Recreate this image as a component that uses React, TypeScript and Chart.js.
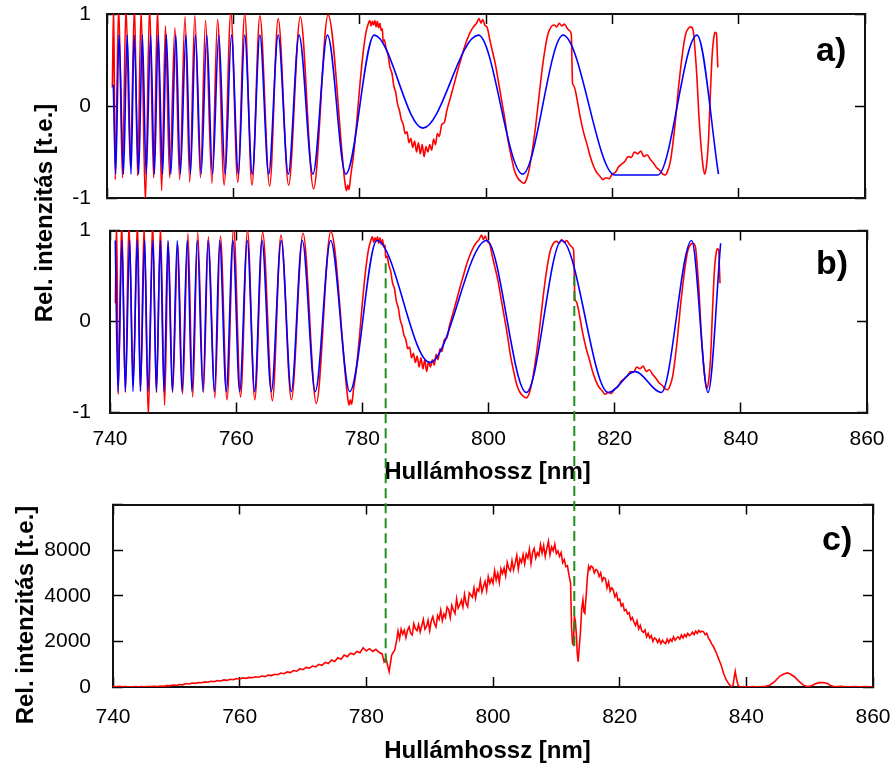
import React, { useEffect, useRef } from "react";
import { Chart, registerables } from "chart.js";

Chart.register(...registerables);

const PAGE_W = 892;
const PAGE_H = 766;
const FONT = '"Liberation Sans", Arial, Helvetica, sans-serif';
const RED = "#ff0000";
const BLUE = "#0000ff";
const GREEN = "#1f8f1f";

// Wavelength axis, nm
const X_MIN = 740;
const X_MAX = 860;
const X_STEP = 20;

// Normalised fringe panels a) and b)
const FRINGE_MIN = -1;
const FRINGE_MAX = 1;
const FRINGE_STEP = 1;

// Spectrum panel c)
const SPEC_MAX = 8000;
const SPEC_STEP = 2000;
const specTickValues = [0, 2000, 4000, 6000];
const specTickLabels = ["0", "2000", "4000", "8000"];

// Measured interference signal (red), shared by panels a) and b): [nm, rel.]
const measuredFringe: [number, number][] = [
  [740.85, 0.2], [741.05, 1.1], [741.3, -0.8], [741.85, 1.1], [742.45, -0.78], [743.0, 1.08],
  [743.7, -0.65], [744.35, 1.1], [744.85, -0.76], [745.4, 1.05], [746.08, -1.05], [746.75, 1.1],
  [747.38, -0.78], [748.0, 1.05], [748.65, -0.92], [749.25, 0.87], [749.92, -0.78], [750.75, 0.85],
  [751.5, -0.8], [752.35, 0.97], [753.1, -0.83], [753.9, 0.98], [754.8, -0.78], [755.6, 0.93],
  [756.62, -0.84], [757.5, 0.94], [758.55, -0.86], [759.6, 1.02], [760.7, -0.83], [761.8, 1.0],
  [762.95, -0.86], [764.2, 0.98], [765.75, -0.87], [767.1, 0.95], [768.75, -0.86], [770.6, 0.97],
  [772.7, -0.9], [775.0, 0.99], [777.7, -0.85], [777.9, -0.92], [778.1, -0.86], [778.3, -0.91],
  [778.6, -0.75], [779.0, -0.55], [779.5, -0.2], [780.0, 0.2], [780.5, 0.55], [781.0, 0.8],
  [781.3, 0.88], [781.6, 0.93], [781.8, 0.87], [782.0, 0.92], [782.2, 0.88], [782.4, 0.93],
  [782.6, 0.86], [782.8, 0.92], [783.0, 0.85], [783.2, 0.9], [783.4, 0.82], [783.6, 0.84],
  [783.7, 0.7], [783.9, 0.72], [784.2, 0.62], [784.5, 0.55], [784.8, 0.42], [785.1, 0.36],
  [785.4, 0.22], [785.7, 0.15], [786.0, 0.02], [786.3, -0.05], [786.6, -0.15], [786.9, -0.2],
  [787.2, -0.3], [787.5, -0.28], [787.8, -0.4], [788.1, -0.35], [788.4, -0.45], [788.7, -0.38],
  [789.0, -0.5], [789.3, -0.4], [789.6, -0.52], [789.9, -0.42], [790.2, -0.55], [790.5, -0.44],
  [790.8, -0.5], [791.1, -0.42], [791.4, -0.48], [791.7, -0.36], [792.0, -0.42], [792.3, -0.3],
  [792.6, -0.33], [793.0, -0.2], [793.4, -0.18], [793.8, -0.05], [794.2, 0.05], [794.6, 0.15],
  [795.0, 0.25], [795.5, 0.38], [796.0, 0.5], [796.5, 0.62], [797.0, 0.72], [797.5, 0.8],
  [798.0, 0.86], [798.5, 0.9], [798.9, 0.95], [799.2, 0.9], [799.5, 0.94], [799.8, 0.88],
  [800.2, 0.85], [800.6, 0.72], [801.0, 0.6], [801.5, 0.45], [802.0, 0.25], [802.5, 0.05],
  [803.0, -0.15], [803.5, -0.38], [804.0, -0.55], [804.5, -0.7], [805.0, -0.78], [805.5, -0.82],
  [806.0, -0.84], [806.4, -0.8], [806.8, -0.7], [807.3, -0.5], [807.8, -0.25], [808.3, 0.05],
  [808.8, 0.35], [809.3, 0.6], [809.8, 0.78], [810.3, 0.86], [810.8, 0.88], [811.2, 0.86],
  [811.6, 0.9], [812.0, 0.87], [812.4, 0.89], [812.8, 0.85], [813.2, 0.82], [813.5, 0.78],
  [813.7, 0.25], [813.9, 0.22], [814.2, 0.15], [814.6, 0.0], [815.0, -0.15], [815.5, -0.3],
  [816.0, -0.42], [816.5, -0.55], [817.0, -0.65], [817.5, -0.72], [818.0, -0.76], [818.5, -0.8],
  [819.0, -0.78], [819.5, -0.79], [820.0, -0.74], [820.5, -0.72], [821.0, -0.66], [821.5, -0.63],
  [822.0, -0.6], [822.5, -0.55], [823.0, -0.56], [823.5, -0.5], [824.0, -0.52], [824.5, -0.49],
  [825.0, -0.55], [825.5, -0.53], [826.0, -0.58], [826.5, -0.62], [827.0, -0.67], [827.5, -0.7],
  [828.0, -0.74], [828.4, -0.75], [828.8, -0.7], [829.2, -0.6], [829.6, -0.4], [830.0, -0.15],
  [830.4, 0.15], [830.8, 0.4], [831.2, 0.62], [831.6, 0.78], [832.0, 0.84], [832.4, 0.86],
  [832.8, 0.82], [833.1, 0.6], [833.4, 0.3], [833.7, -0.1], [834.0, -0.4], [834.3, -0.62],
  [834.6, -0.74], [834.9, -0.65], [835.2, -0.4], [835.5, 0.1], [835.8, 0.55], [836.1, 0.76],
  [836.3, 0.8], [836.5, 0.78], [836.6, 0.6], [836.7, 0.42],
];

// First model (blue, panel a): extrema of the fitted curve, [nm, rel.]
const modelA: [number, number][] = [
  [741.0, 0.23], [741.37, -0.74], [741.9, 0.77], [742.6, -0.74], [743.2, 0.77], [743.8, -0.74],
  [744.3, 0.77], [745.0, -0.74], [745.6, 0.77], [746.2, -0.74], [746.9, 0.77], [747.5, -0.74],
  [748.1, 0.77], [748.8, -0.74], [749.4, 0.77], [750.1, -0.74], [750.9, 0.77], [751.6, -0.74],
  [752.5, 0.77], [753.2, -0.74], [754.0, 0.77], [754.9, -0.74], [755.8, 0.77], [756.7, -0.74],
  [757.7, 0.77], [758.7, -0.74], [759.7, 0.77], [760.8, -0.74], [761.8, 0.77], [763.0, -0.74],
  [764.2, 0.77], [765.6, -0.74], [767.1, 0.77], [768.7, -0.74], [770.4, 0.77], [772.6, -0.74],
  [774.9, 0.77], [777.8, -0.74], [782.3, 0.77], [790.0, -0.24], [798.8, 0.77], [805.8, -0.74],
  [812.2, 0.77], [820.4, -0.75], [827.2, -0.75], [833.4, 0.77], [836.8, -0.74],
];

// Refined model (blue, panel b): extrema of the fitted curve, [nm, rel.]
const modelB: [number, number][] = [
  [740.84, 0.89], [741.27, -0.77], [741.9, 0.89], [742.43, -0.77], [743.12, 0.89], [743.64, -0.77],
  [744.33, 0.89], [744.81, -0.77], [745.49, 0.89], [746.02, -0.77], [746.81, 0.89], [747.34, -0.77],
  [747.98, 0.89], [748.56, -0.77], [749.19, 0.89], [749.88, -0.77], [750.67, 0.89], [751.41, -0.77],
  [752.26, 0.89], [752.99, -0.77], [753.84, 0.89], [754.74, -0.77], [755.53, 0.89], [756.58, -0.77],
  [757.38, 0.89], [758.43, -0.77], [759.49, 0.89], [760.55, -0.77], [761.76, 0.89], [762.93, -0.77],
  [764.09, 0.89], [765.57, -0.77], [767.15, 0.89], [768.74, -0.77], [770.48, 0.89], [772.54, -0.77],
  [774.97, 0.89], [778.0, -0.77], [782.3, 0.89], [790.7, -0.45], [799.7, 0.89], [806.0, -0.78],
  [811.6, 0.89], [819.0, -0.78], [823.2, -0.55], [827.4, -0.78], [832.2, 0.89], [834.8, -0.78],
  [836.8, 0.86],
];

// Spectrum (panel c), sampled on regular grids plus hand-read features
const specLowStart = 740;
const specLowStep = 0.5;
const specLow = [
  30, 10, 25, 5, 15, 0, 10, 20, 5, 15, 10, 25, 15, 30, 20, 45, 35, 60, 50, 85,
  70, 110, 95, 150, 130, 175, 160, 200, 185, 225, 210, 250, 235, 280, 265, 310, 290, 340, 320, 370,
  350, 400, 380, 420, 405, 450, 430, 480, 455, 520, 500, 560, 540, 610, 580, 660, 630, 720, 690, 800,
  760, 860, 830, 920, 880, 990, 950, 1080, 1030, 1180, 1120, 1280, 1220, 1400, 1330, 1480, 1420, 1560, 1500, 1720,
  1580, 1680, 1560, 1650, 1520, 1450,
];
const specDip1: [number, number][] = [
  [782.8, 1110], [783.1, 1270], [783.35, 950], [783.6, 670], [784.0, 1400], [784.5, 1630], [784.8, 2070],
];
const specRiseStart = 785;
const specFineStep = 0.25;
const specRise = [
  2450, 2122, 2545, 2317, 2490, 2162, 2485, 2637, 2360, 2282,
  2775, 2547, 2470, 2742, 2415, 2687, 2960, 2532, 2655, 2927,
  2470, 2895, 3090, 2785, 2630, 3125, 2970, 3365, 2910, 3205,
  3050, 3495, 3390, 3035, 3580, 3375, 3220, 3865, 3460, 3605,
  3800, 3505, 4060, 3665, 3520, 4125, 4030, 3935, 4340, 3895,
  4300, 4205, 4660, 4165, 4420, 4625, 4230, 4835, 4540, 4745,
  4550, 5095, 4690, 4985, 4580, 5175, 4970, 5215, 4860, 5455,
  5200, 5095, 5540, 5135, 5430, 5775, 5170, 5615, 5460, 5805,
  5400, 5829, 5658, 6037, 5416, 5895, 6074, 5653, 5882, 5761,
  6240, 5869, 6200, 5712, 6075, 6387, 5800, 6137, 5975, 6262,
  5850, 5962, 5725, 5887, 5450, 5587, 5275, 5312, 4900, 4550,
];
const specDip2: [number, number][] = [
  [812.4, 2650], [812.55, 1900], [812.7, 1850], [812.85, 3100], [813.0, 2900], [813.15, 2360],
  [813.3, 1500], [813.45, 1110], [813.6, 1700], [813.8, 2360], [814.0, 3400], [814.2, 3820],
  [814.35, 3300], [814.5, 3240], [814.7, 3970], [814.9, 4800], [815.1, 5290], [815.3, 5150],
  [815.5, 5300],
];
const specFallStart = 815.75;
const specFall = [
  5250, 5000, 5150, 5100, 4850, 5000, 4650, 4800, 4750, 4350,
  4600, 4200, 4350, 4250, 3950, 4100, 3800, 3850, 3550, 3650,
  3350, 3400, 3200, 3250, 2950, 3050, 2850, 2700, 2900, 2550,
  2700, 2450, 2400, 2500, 2200, 2350, 2150, 2250, 2000, 2150,
  2100, 1950, 2100, 1900, 2050, 1950, 1900, 2100, 1950, 2100,
  2000, 2200, 2050, 2150, 2200, 2100, 2280, 2150, 2300, 2200,
  2350, 2250, 2300, 2400, 2300, 2450, 2350, 2480, 2400, 2450,
  2420, 2300, 2350, 2150, 2050, 1900, 1800, 1650, 1500, 1320,
  1150, 980,
];
const specTail: [number, number][] = [
  [836.4, 600], [836.8, 330], [837.2, 150], [837.6, 0], [837.9, 80], [838.1, 450], [838.25, 680],
  [838.45, 350], [838.7, 80], [839.0, 0], [839.5, 20], [840.0, 0], [841.0, 20], [842.0, 0],
  [843.0, 30], [843.7, 80], [844.5, 250], [845.3, 480], [846.0, 580], [846.5, 620], [847.0, 560],
  [847.6, 450], [848.2, 280], [849.0, 80], [849.6, 20], [850.2, 40], [850.8, 130], [851.5, 190],
  [852.2, 200], [852.8, 150], [853.4, 50], [854.0, 10], [855.0, 30], [856.0, 0], [857.0, 25],
  [858.0, 5], [859.0, 20], [860.0, 0],
];

// Wavelengths linking features of panel b) to the spectrum in panel c)
const markerWavelengths = [783.7, 813.6];
const markerUpperValues = [0.64, 0.5];
const markerLowerValues = [1050, 1630];

type Pt = { x: number; y: number };
const pairs = (list: [number, number][]): Pt[] => list.map(([x, y]) => ({ x, y }));
const grid = (start: number, step: number, values: number[]): Pt[] =>
  values.map((y, i) => ({ x: +(start + i * step).toFixed(3), y }));

const spectrumPoints: Pt[] = [
  ...grid(specLowStart, specLowStep, specLow),
  ...pairs(specDip1),
  ...grid(specRiseStart, specFineStep, specRise),
  ...pairs(specDip2),
  ...grid(specFallStart, specFineStep, specFall),
  ...pairs(specTail),
];

type Box = { left: number; right: number; top: number; bottom: number };
const boxA: Box = { left: 107, right: 865, top: 14, bottom: 198 };
const boxB: Box = { left: 110, right: 867, top: 230.5, bottom: 412.5 };
const boxC: Box = { left: 113, right: 873, top: 504.5, bottom: 687 };

const X_AXIS_H = 60;

// fix an axis' thickness and drop the label overhang Chart.js would reserve
const fixSize = (dim: "width" | "height", size: number) => (s: any) => {
  s[dim] = size;
  s.paddingLeft = 0;
  s.paddingRight = 0;
  s.paddingTop = 0;
  s.paddingBottom = 0;
};

function panelOptions(
  box: Box,
  y: { min: number; max: number; step: number; labelPad: number; callback?: (v: number) => string },
  x: { labels: boolean; labelPad: number }
): any {
  const tickFont = { family: FONT, size: 21 };
  const gridOpts = {
    drawOnChartArea: false,
    drawTicks: true,
    tickLength: -10,
    tickColor: "#000",
    tickWidth: 1.5,
    color: "#000",
  };
  const border = { display: true, color: "#111", width: 2 };
  const xBase = { type: "linear", min: X_MIN, max: X_MAX, grid: gridOpts, border };
  const yBase = { type: "linear", min: y.min, max: y.max, grid: gridOpts, border };
  return {
    responsive: false,
    animation: false,
    events: [],
    layout: {
      padding: { left: 0, top: box.top, right: PAGE_W - box.right, bottom: PAGE_H - box.bottom - X_AXIS_H },
    },
    plugins: { legend: { display: false }, tooltip: { enabled: false }, title: { display: false } },
    elements: { point: { radius: 0 } },
    scales: {
      x: {
        ...xBase,
        position: "bottom",
        ticks: {
          display: x.labels,
          stepSize: X_STEP,
          font: tickFont,
          color: "#000",
          padding: x.labelPad,
          maxRotation: 0,
          autoSkip: false,
        },
        afterFit: fixSize("height", X_AXIS_H),
      },
      xTop: {
        ...xBase,
        position: "top",
        ticks: { display: false, stepSize: X_STEP },
        afterFit: fixSize("height", 0),
      },
      y: {
        ...yBase,
        position: "left",
        ticks: {
          stepSize: y.step,
          font: tickFont,
          color: "#000",
          padding: y.labelPad,
          autoSkip: false,
          ...(y.callback ? { callback: y.callback } : {}),
        },
        afterFit: fixSize("width", box.left),
      },
      yRight: {
        ...yBase,
        position: "right",
        ticks: { display: false, stepSize: y.step },
        afterFit: fixSize("width", 0),
      },
    },
  };
}

const lineStyle = (color: string, smooth: boolean) => ({
  borderColor: color,
  backgroundColor: color,
  borderWidth: 1.6,
  pointRadius: 0,
  fill: false,
  clip: 0,
  ...(smooth ? { cubicInterpolationMode: "monotone" } : { tension: 0 }),
  xAxisID: "x",
  yAxisID: "y",
});

export default function App() {
  const refA = useRef<HTMLCanvasElement>(null);
  const refB = useRef<HTMLCanvasElement>(null);
  const refC = useRef<HTMLCanvasElement>(null);

  useEffect(() => {
    const fringeY = { min: FRINGE_MIN, max: FRINGE_MAX, step: FRINGE_STEP };

    const chartA = new Chart(refA.current as HTMLCanvasElement, {
      type: "line",
      data: {
        datasets: [
          { data: pairs(modelA), ...lineStyle(BLUE, true) } as any,
          { data: pairs(measuredFringe), ...lineStyle(RED, true) } as any,
        ],
      },
      options: panelOptions(boxA, { ...fringeY, labelPad: 26 }, { labels: false, labelPad: 0 }),
    });

    const chartB = new Chart(refB.current as HTMLCanvasElement, {
      type: "line",
      data: {
        datasets: [
          { data: pairs(modelB), ...lineStyle(BLUE, true) } as any,
          { data: pairs(measuredFringe), ...lineStyle(RED, true) } as any,
        ],
      },
      options: panelOptions(boxB, { ...fringeY, labelPad: 29 }, { labels: true, labelPad: 24 }),
    });

    // dashed guides from panel b) down into the spectrum
    const markerPlugin = {
      id: "markerLines",
      afterDatasetsDraw(chart: any) {
        const ctx = chart.ctx as CanvasRenderingContext2D;
        ctx.save();
        ctx.strokeStyle = GREEN;
        ctx.lineWidth = 2;
        ctx.setLineDash([10, 5]);
        markerWavelengths.forEach((wl, i) => {
          const px = chartB.scales.x.getPixelForValue(wl);
          const y1 = chartB.scales.y.getPixelForValue(markerUpperValues[i]);
          const y2 = chart.scales.y.getPixelForValue(markerLowerValues[i]);
          ctx.beginPath();
          ctx.moveTo(px, y1);
          ctx.lineTo(px, y2);
          ctx.stroke();
        });
        ctx.restore();
      },
    };

    const chartC = new Chart(refC.current as HTMLCanvasElement, {
      type: "line",
      data: { datasets: [{ data: spectrumPoints, ...lineStyle(RED, false) } as any] },
      options: panelOptions(
        boxC,
        {
          min: 0,
          max: SPEC_MAX,
          step: SPEC_STEP,
          labelPad: 32,
          callback: (v: number) => {
            const i = specTickValues.indexOf(v);
            return i >= 0 ? specTickLabels[i] : "";
          },
        },
        { labels: true, labelPad: 28 }
      ),
      plugins: [markerPlugin],
    });

    return () => {
      chartC.destroy();
      chartB.destroy();
      chartA.destroy();
    };
  }, []);

  const canvasStyle: React.CSSProperties = {
    position: "absolute",
    left: 0,
    top: 0,
    width: PAGE_W,
    height: PAGE_H,
  };
  const titleBase: React.CSSProperties = {
    position: "absolute",
    fontFamily: FONT,
    fontWeight: "bold",
    fontSize: 24,
    lineHeight: "28px",
    height: 28,
    whiteSpace: "nowrap",
    textAlign: "center",
    color: "#000",
  };
  const panelTag: React.CSSProperties = {
    position: "absolute",
    fontFamily: FONT,
    fontWeight: "bold",
    fontSize: 34,
    lineHeight: "34px",
    color: "#000",
    whiteSpace: "nowrap",
  };

  return (
    <div style={{ position: "absolute", left: 0, top: 0, width: PAGE_W, height: PAGE_H, background: "#fff", overflow: "hidden" }}>
      <canvas ref={refA} width={PAGE_W} height={PAGE_H} style={canvasStyle} />
      <canvas ref={refB} width={PAGE_W} height={PAGE_H} style={canvasStyle} />
      <div style={{ ...titleBase, left: 43.5 - 150, top: 212.5 - 14, width: 300, transform: "rotate(-90deg)" }}>
        Rel. intenzitás [t.e.]
      </div>
      <div style={{ ...titleBase, left: 24.7 - 150, top: 615 - 14, width: 300, transform: "rotate(-90deg)" }}>
        Rel. intenzitás [t.e.]
      </div>
      <div style={{ ...titleBase, left: 487.5 - 200, top: 456.7, width: 400 }}>Hullámhossz [nm]</div>
      <div style={{ ...titleBase, left: 487.5 - 200, top: 735.7, width: 400 }}>Hullámhossz [nm]</div>
      <div style={{ ...panelTag, left: 816, top: 32 }}>a)</div>
      <div style={{ ...panelTag, left: 816, top: 245 }}>b)</div>
      <div style={{ ...panelTag, left: 822, top: 521 }}>c)</div>
      <canvas ref={refC} width={PAGE_W} height={PAGE_H} style={canvasStyle} />
    </div>
  );
}
